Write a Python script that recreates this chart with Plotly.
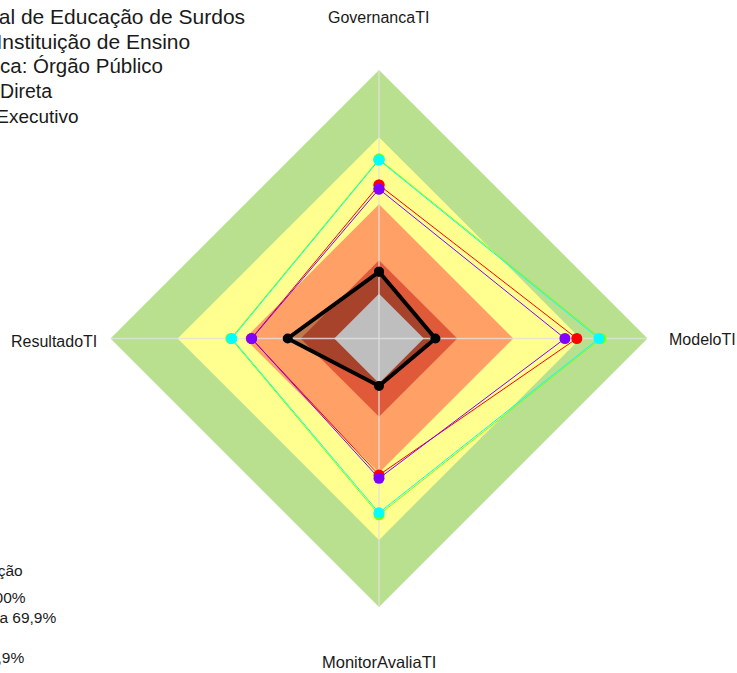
import plotly.graph_objects as go

W, H = 737, 673

categorias = ["GovernancaTI", "ModeloTI", "MonitorAvaliaTI", "ResultadoTI"]

# Faixas de classificação (limite superior, %)
faixa_limites = [100, 70, 40, 15]
faixa_cores = ["#B9E08F", "#FFFF8F", "#FFA066", "#E05A3A"]
centro_limite = 0
centro_cor = "#BEBEBE"
eixo_min, eixo_max = -20, 100

# Séries (valores em %)
instituicao = [9.8, 5.2, 1.2, 20.8]
serie_vermelha = [48.6, 68.4, 41.0, 37.0]
serie_verde = [60.2, 79.2, 58.8, 46.2]
serie_ciano = [59.8, 78.3, 57.9, 45.8]
serie_roxa = [46.8, 63.1, 42.5, 36.9]
series = [
    ("Média geral", serie_vermelha, "#FF0000"),
    ("Média do segmento", serie_verde, "#80FF00"),
    ("Média da esfera", serie_ciano, "#00FFFF"),
    ("Média do poder", serie_roxa, "#8000FF"),
]

titulo = [
    "Instituto Nacional de Educação de Surdos",
    "Segmento: Instituição de Ensino",
    "Natureza Jurídica: Órgão Público",
    "Esfera: Administração Direta",
    "Poder: Executivo",
]
legenda = [
    "Faixa de classificação",
    "Aprimorado: 70% a 100%",
    "Intermediário: 40% a 69,9%",
    "Inexpressivo: 0% a 14,9%",
]

def fechar(v):
    return list(v) + [v[0]]

theta = fechar(categorias)
fig = go.Figure()

for lim, cor in zip(faixa_limites, faixa_cores):
    fig.add_trace(go.Scatterpolar(r=[lim] * len(theta), theta=theta, mode="lines",
                                  fill="toself", fillcolor=cor, line=dict(width=0, color=cor),
                                  hoverinfo="skip"))

# preenchimento translúcido da instituição
fig.add_trace(go.Scatterpolar(r=fechar(instituicao), theta=theta, mode="lines",
                              fill="toself", fillcolor="rgba(0,0,0,0.25)",
                              line=dict(width=0, color="rgba(0,0,0,0)"), hoverinfo="skip"))

fig.add_trace(go.Scatterpolar(r=[centro_limite] * len(theta), theta=theta, mode="lines",
                              fill="toself", fillcolor=centro_cor, line=dict(width=0, color=centro_cor),
                              hoverinfo="skip"))

# raios dos eixos
r_raios, t_raios = [], []
for c in categorias:
    r_raios += [eixo_min, eixo_max, None]
    t_raios += [c, c, None]
fig.add_trace(go.Scatterpolar(r=r_raios, theta=t_raios, mode="lines",
                              line=dict(width=1.5, color="rgba(225,225,225,0.8)"),
                              hoverinfo="skip", connectgaps=False))

for nome, vals, cor in series:
    fig.add_trace(go.Scatterpolar(r=fechar(vals), theta=theta, mode="lines+markers", name=nome,
                                  line=dict(width=1, color=cor),
                                  marker=dict(size=11, color=cor)))

fig.add_trace(go.Scatterpolar(r=fechar(instituicao), theta=theta, mode="lines+markers",
                              name="Instituição", line=dict(width=4, color="black"),
                              marker=dict(size=10, color="black")))

cx, cy, R = 379, 338.5, 268.5
fig.update_layout(
    width=W, height=H, margin=dict(l=0, r=0, t=0, b=0),
    paper_bgcolor="white", plot_bgcolor="white", showlegend=False,
    font=dict(family="Liberation Sans, Arial, sans-serif", color="#1a1a1a"),
    polar=dict(
        domain=dict(x=[(cx - R) / W, (cx + R) / W], y=[(H - cy - R) / H, (H - cy + R) / H]),
        bgcolor="rgba(0,0,0,0)",
        radialaxis=dict(range=[eixo_min, eixo_max], visible=False),
        angularaxis=dict(categoryarray=categorias, categoryorder="array", rotation=90,
                         direction="clockwise", showticklabels=False, showgrid=False,
                         showline=False, ticks=""),
    ),
)

def px(x, y):
    return x / W, 1 - y / H

# rótulos dos eixos
rotulos = [(378, 17, "center", 16), (667, 339, "left", 16), (379, 662, "center", 16.5),
           (99, 341, "right", 16)]
for (x, y, anc, fs), txt in zip(rotulos, categorias):
    ax, ay = px(x, y)
    fig.add_annotation(x=ax, y=ay, xref="paper", yref="paper", text=txt, showarrow=False,
                       xanchor=anc, yanchor="middle", font=dict(size=fs, color="#1a1a1a"))

# título (cortado à esquerda)
tit_pos = [(247, 16, 21), (192, 41, 21), (165, 66, 20.5), (54, 91, 19.5), (81, 116, 19)]
for (x, y, fs), txt in zip(tit_pos, titulo):
    ax, ay = px(x, y)
    fig.add_annotation(x=ax, y=ay, xref="paper", yref="paper", text=txt, showarrow=False,
                       xanchor="right", yanchor="middle", font=dict(size=fs, color="#1a1a1a"))

leg_pos = [(25, 570), (28, 597), (58, 617), (26, 657)]
for (x, y), txt in zip(leg_pos, legenda):
    ax, ay = px(x, y)
    fig.add_annotation(x=ax, y=ay, xref="paper", yref="paper", text=txt, showarrow=False,
                       xanchor="right", yanchor="middle", font=dict(size=15.5, color="#1a1a1a"))

fig.write_html("out.html", config={"displayModeBar": False},
               post_script="document.body.style.margin='0';document.body.style.overflow='hidden';")
